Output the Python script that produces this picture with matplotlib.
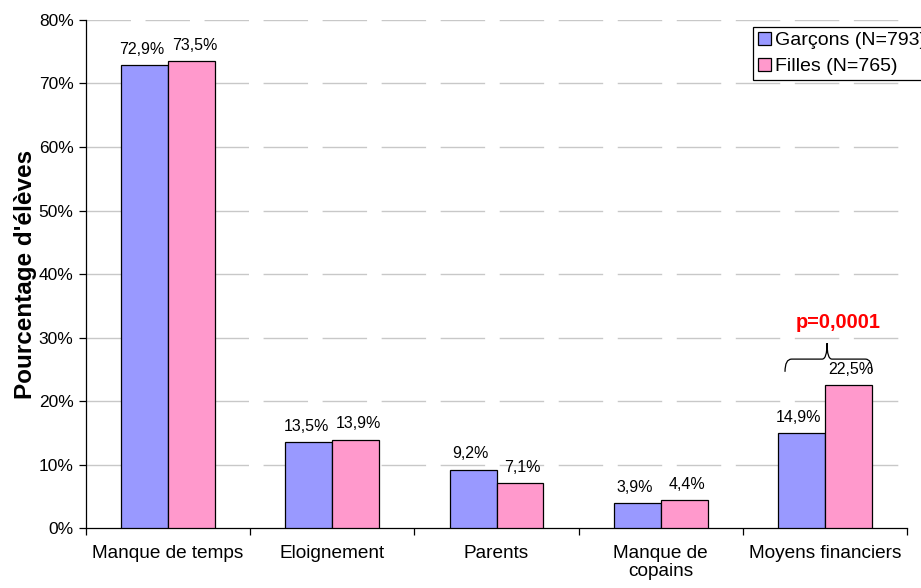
import numpy as np
import matplotlib.pyplot as plt
from matplotlib.patches import Patch, PathPatch
from matplotlib.path import Path

plt.rcParams['font.family'] = ['Liberation Sans', 'DejaVu Sans']

CATEGORIES = ['Manque de temps', 'Eloignement', 'Parents', 'Manque de\ncopains', 'Moyens financiers']
GARCONS = [72.9, 13.5, 9.2, 3.9, 14.9]
FILLES = [73.5, 13.9, 7.1, 4.4, 22.5]
LABELS = ['Garçons (N=793)', 'Filles (N=765)']
YTICKS = [0, 10, 20, 30, 40, 50, 60, 70, 80]

BLUE = '#9999ff'
PINK = '#ff99cc'


def fr(v):
    """valeur avec virgule decimale"""
    return ('%.1f%%' % v).replace('.', ',')


fig = plt.figure(figsize=(9.21, 5.88), dpi=100)
ax = fig.add_axes([0.0934, 0.102, 0.8914, 0.864])

x = np.arange(len(CATEGORIES))
w = 0.286
b1 = ax.bar(x - w / 2, GARCONS, w, color=BLUE, edgecolor='black', linewidth=0.9, zorder=3)
b2 = ax.bar(x + w / 2, FILLES, w, color=PINK, edgecolor='black', linewidth=0.9, zorder=3)

# etiquettes un peu ecartees l'une de l'autre
for rects, vals, dx in ((b1, GARCONS, -2), (b2, FILLES, 2)):
    for r, v in zip(rects, vals):
        ax.annotate(fr(v), xy=(r.get_x() + r.get_width() / 2, v),
                    xytext=(dx, 6), textcoords='offset points',
                    ha='center', va='bottom', fontsize=11.5)

ax.set_xlim(-0.5, 4.5)
ax.set_ylim(0, 80)
ax.set_yticks(YTICKS)
ax.set_yticklabels(['%d%%' % t for t in YTICKS], fontsize=12.5)
ax.set_xticks(x)
ax.set_xticklabels(CATEGORIES, fontsize=13.7, va='top', linespacing=1.1)
ax.set_xticks(np.arange(-0.5, 5, 1), minor=True)
ax.tick_params(axis='x', which='major', length=0, pad=12)
ax.tick_params(axis='x', which='minor', length=5, direction='out', width=0.9)
ax.tick_params(axis='y', length=5, direction='out', width=0.9, pad=4)

for t in YTICKS[1:]:
    ax.axhline(t, color='#c8c8c8', linewidth=1.0, linestyle=(0, (32, 10.5)), zorder=1)

ax.spines['top'].set_visible(False)
ax.spines['right'].set_visible(False)
ax.spines['left'].set_linewidth(0.9)
ax.spines['bottom'].set_linewidth(0.9)

ax.set_ylabel("Pourcentage d'élèves", fontsize=17.5, fontweight='bold', labelpad=1.5)

# accolade au-dessus de "Moyens financiers"
x0, x1, xm = 3.757, 4.287, 4.013
y0, y1, y2 = 24.6, 26.6, 29.1
verts = [(x0, y0), (x0, y1), (x0 + 0.04, y1),
         (xm - 0.03, y1), (xm, y1), (xm, y2),
         (xm, y1), (xm + 0.03, y1),
         (x1 - 0.04, y1), (x1, y1), (x1, y0)]
codes = [Path.MOVETO, Path.CURVE3, Path.CURVE3,
         Path.LINETO, Path.CURVE3, Path.CURVE3,
         Path.CURVE3, Path.CURVE3,
         Path.LINETO, Path.CURVE3, Path.CURVE3]
ax.add_patch(PathPatch(Path(verts, codes), facecolor='none', edgecolor='black',
                       linewidth=0.9, zorder=4))
ax.text(4.08, 32.4, 'p=0,0001', color='#ff0000', fontweight='bold', fontsize=14.3,
        ha='center', va='center')

handles = [Patch(facecolor=BLUE, edgecolor='black', linewidth=0.9),
           Patch(facecolor=PINK, edgecolor='black', linewidth=0.9)]
leg = fig.legend(handles, LABELS, loc='upper left', bbox_to_anchor=(753 / 921, 1 - 27 / 588),
                 fontsize=14, frameon=True, fancybox=False, framealpha=1,
                 handlelength=0.7, handleheight=0.7, handletextpad=0.2,
                 borderpad=0.25, labelspacing=0.42, borderaxespad=0)
leg.get_frame().set_edgecolor('black')
leg.get_frame().set_linewidth(0.9)

fig.savefig('out.png', dpi=100)
